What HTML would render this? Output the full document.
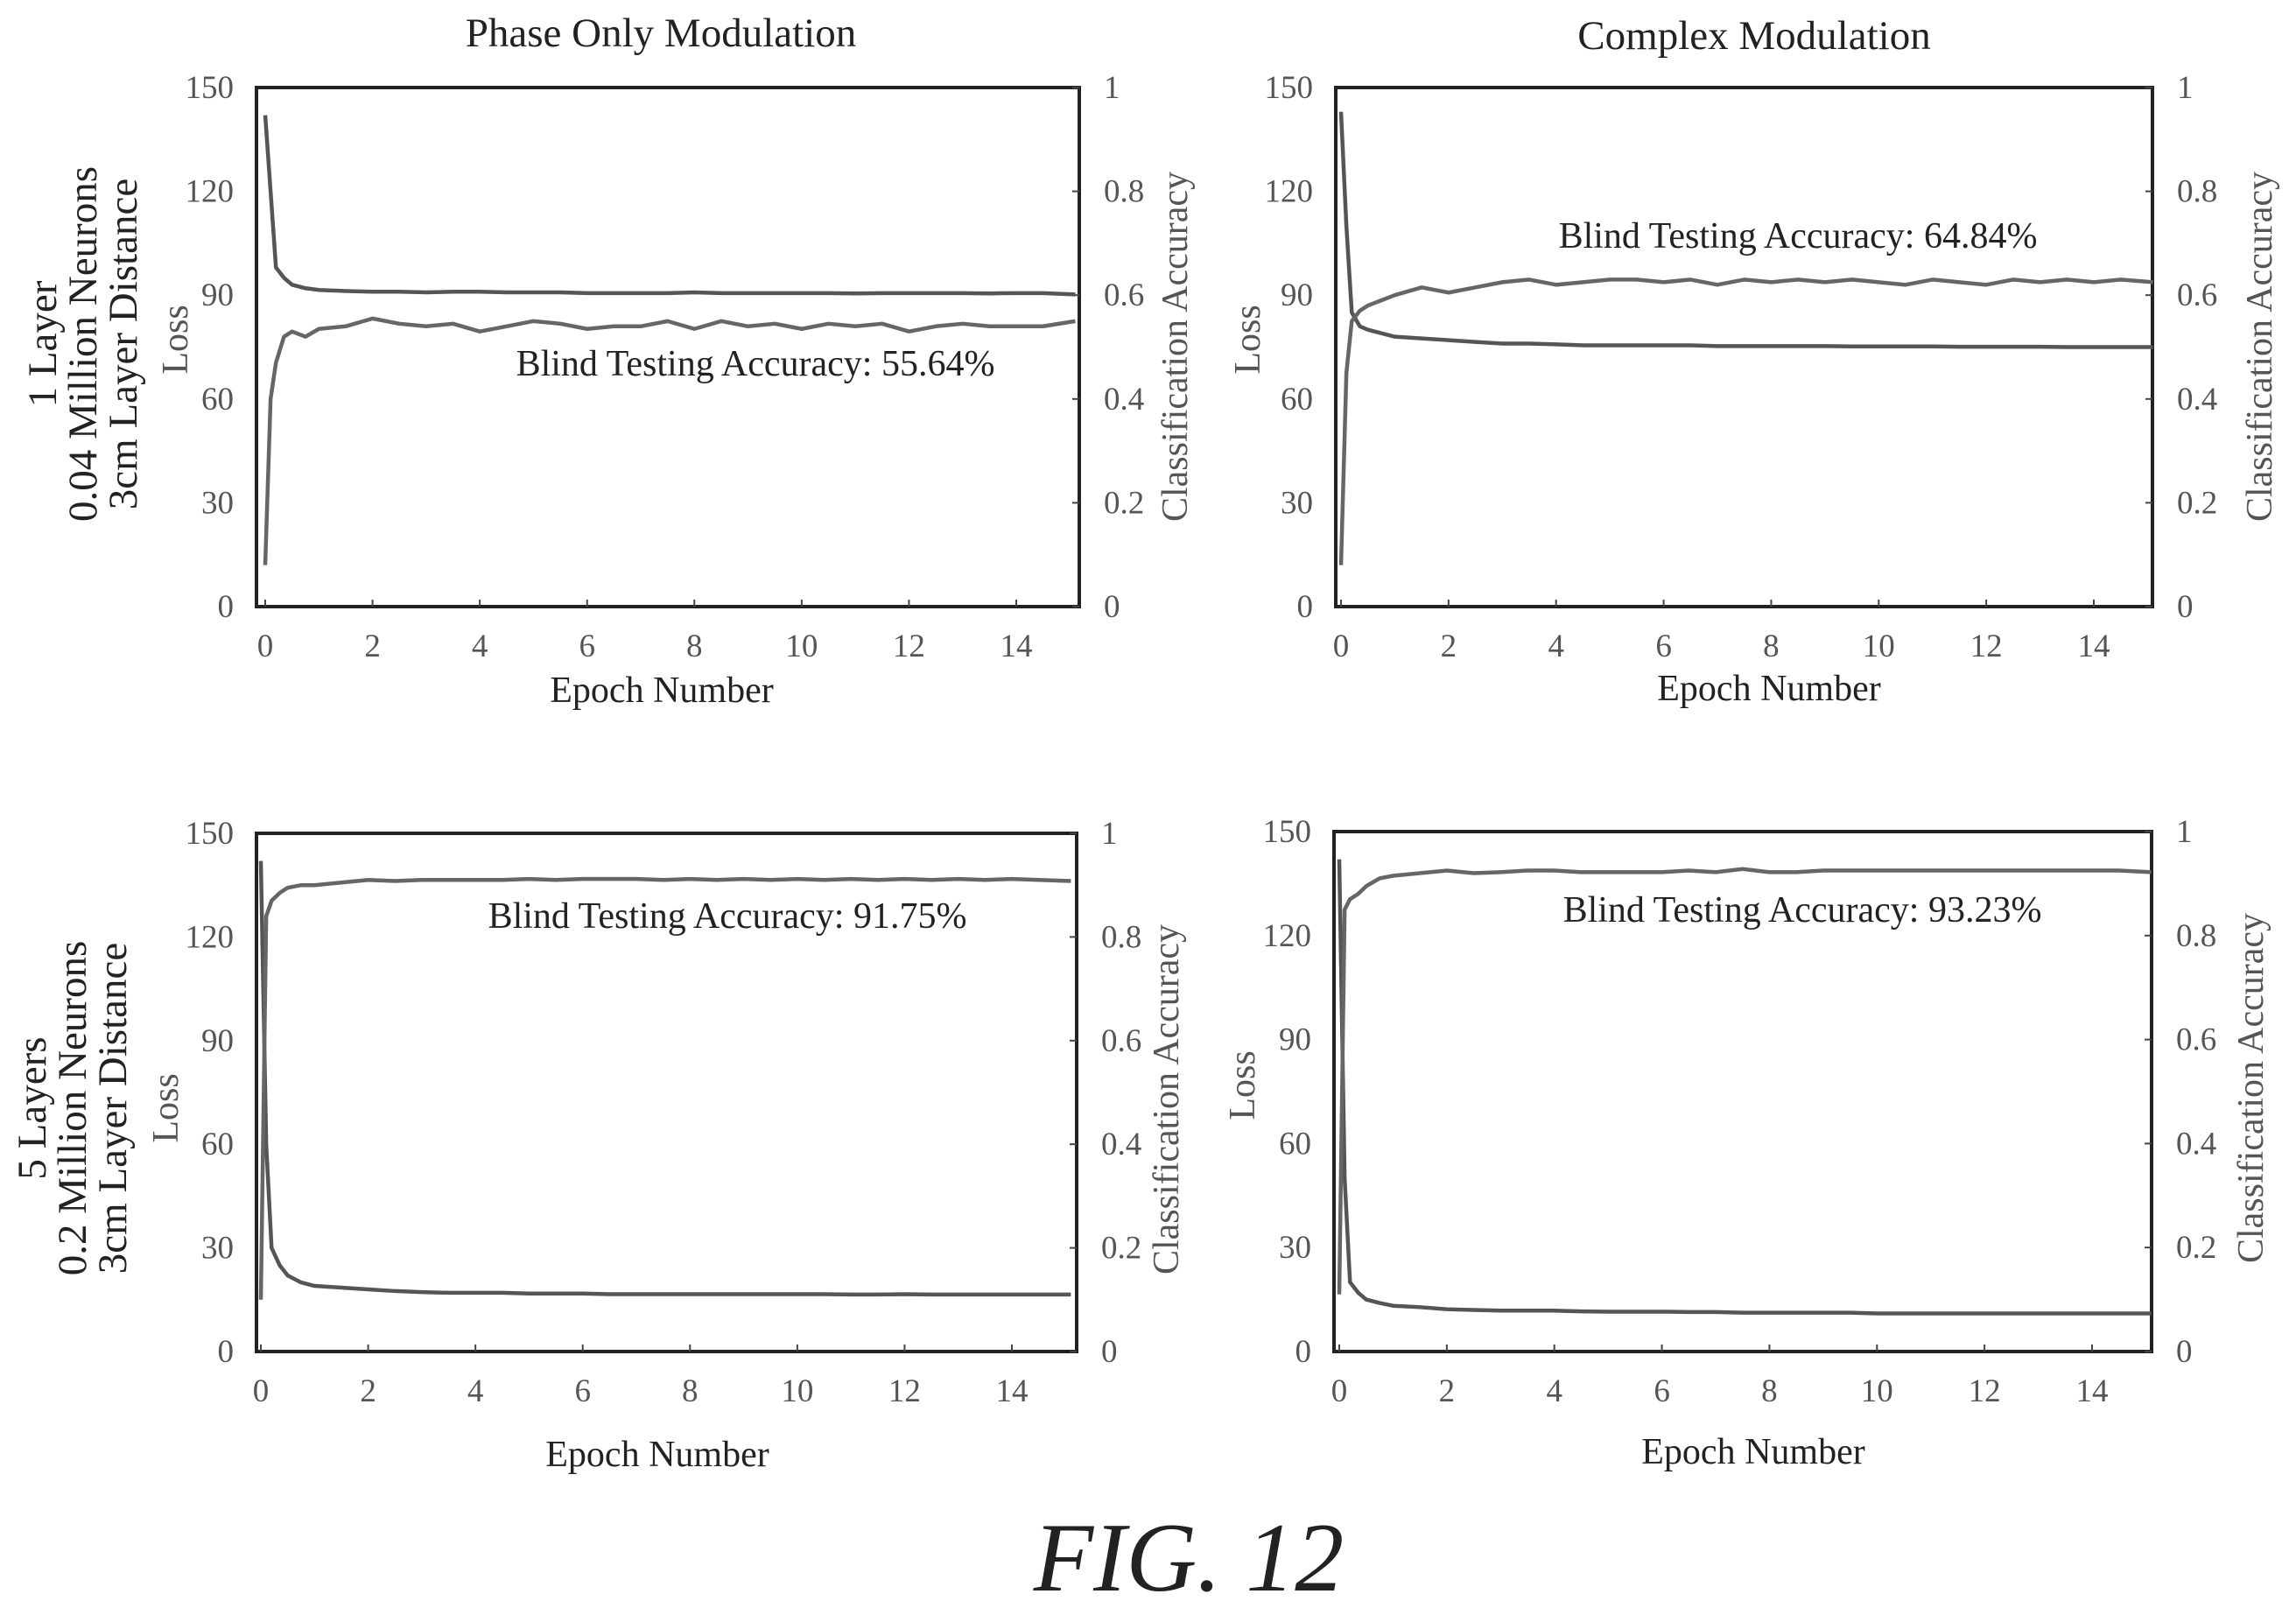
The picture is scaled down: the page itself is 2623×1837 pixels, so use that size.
<!DOCTYPE html>
<html><head><meta charset="utf-8"><style>
html,body{margin:0;padding:0;background:#fff;}
svg{display:block;font-family:"Liberation Serif",serif;}
</style></head><body>
<svg id="fig" width="2623" height="1837" viewBox="0 0 2623 1837" xmlns="http://www.w3.org/2000/svg">
<text x="755" y="53" font-size="47" text-anchor="middle" fill="#222">Phase Only Modulation</text>
<text x="2004" y="56" font-size="47" text-anchor="middle" fill="#222">Complex Modulation</text>
<g transform="translate(96,393) rotate(-90)" font-size="47" fill="#222" text-anchor="middle">
<text x="0" y="-32">1 Layer</text><text x="0" y="14">0.04 Million Neurons</text><text x="0" y="60">3cm Layer Distance</text></g>
<g transform="translate(84,1266) rotate(-90)" font-size="47" fill="#222" text-anchor="middle">
<text x="0" y="-32">5 Layers</text><text x="0" y="14">0.2 Million Neurons</text><text x="0" y="60">3cm Layer Distance</text></g>
<text x="1358" y="1817" font-size="112" font-style="italic" text-anchor="middle" fill="#222">FIG. 12</text>
</svg>
<script>
const epochs=[0,0.1,0.2,0.35,0.5,0.75,1,1.5,2,2.5,3,3.5,4,4.5,5,5.5,6,6.5,7,7.5,8,8.5,9,9.5,10,10.5,11,11.5,12,12.5,13,13.5,14,14.5,15.1];
const lossTicks=[0,30,60,90,120,150];
const accTicks=[0,0.2,0.4,0.6,0.8,1];
const accTickLabels=["0","0.2","0.4","0.6","0.8","1"];
const epochTicks=[0,2,4,6,8,10,12,14];
const tlLoss=[142,120,98,95,93,92,91.5,91.2,91,91,90.8,91,91,90.8,90.8,90.8,90.6,90.6,90.6,90.6,90.8,90.6,90.6,90.6,90.6,90.6,90.5,90.6,90.6,90.6,90.6,90.5,90.6,90.6,90.2];
const tlAcc=[0.08,0.4,0.47,0.52,0.53,0.52,0.535,0.54,0.555,0.545,0.54,0.545,0.53,0.54,0.55,0.545,0.535,0.54,0.54,0.55,0.535,0.55,0.54,0.545,0.535,0.545,0.54,0.545,0.53,0.54,0.545,0.54,0.54,0.54,0.55];
const trLoss=[143,110,85,81,80,79,78,77.5,77,76.5,76,76,75.8,75.5,75.5,75.5,75.5,75.5,75.3,75.3,75.3,75.3,75.3,75.2,75.2,75.2,75.2,75.1,75.1,75.1,75.1,75,75,75,75];
const trAcc=[0.08,0.45,0.55,0.57,0.58,0.59,0.6,0.615,0.605,0.615,0.625,0.63,0.62,0.625,0.63,0.63,0.625,0.63,0.62,0.63,0.625,0.63,0.625,0.63,0.625,0.62,0.63,0.625,0.62,0.63,0.625,0.63,0.625,0.63,0.625];
const blLoss=[142,60,30,25,22,20,19,18.5,18,17.5,17.2,17,17,17,16.8,16.8,16.8,16.6,16.6,16.6,16.6,16.6,16.6,16.6,16.6,16.6,16.5,16.5,16.6,16.5,16.5,16.5,16.5,16.5,16.5];
const blAcc=[0.1,0.84,0.87,0.885,0.895,0.9,0.9,0.905,0.91,0.908,0.91,0.91,0.91,0.91,0.912,0.91,0.912,0.912,0.912,0.91,0.912,0.91,0.912,0.91,0.912,0.91,0.912,0.91,0.912,0.91,0.912,0.91,0.912,0.91,0.908];
const brLoss=[142,50,20,17,15,14,13.2,12.8,12.2,12,11.8,11.8,11.8,11.6,11.5,11.5,11.5,11.4,11.4,11.2,11.2,11.2,11.2,11.2,11,11,11,11,11,11,11,11,11,11,11];
const brAcc=[0.11,0.85,0.87,0.88,0.895,0.91,0.915,0.92,0.925,0.92,0.922,0.925,0.925,0.922,0.922,0.922,0.922,0.925,0.922,0.928,0.922,0.922,0.925,0.925,0.925,0.925,0.925,0.925,0.925,0.925,0.925,0.925,0.925,0.925,0.922];
const panels=[
 {id:'phase-1-layer',L:293,R:1233,T:100,B:693,x0:303,x14:1161,loss:tlLoss,acc:tlAcc,note:'Blind Testing Accuracy: 55.64%',nx:863,ny:429,ex:756,ey:802,lx:200,ly:388,cx:1342,cy:396},
 {id:'complex-1-layer',L:1526,R:2459,T:100,B:693,x0:1532,x14:2392,loss:trLoss,acc:trAcc,note:'Blind Testing Accuracy: 64.84%',nx:2054,ny:283,ex:2021,ey:800,lx:1425,ly:388,cx:2581,cy:396},
 {id:'phase-5-layers',L:293,R:1230,T:952,B:1544,x0:298,x14:1156,loss:blLoss,acc:blAcc,note:'Blind Testing Accuracy: 91.75%',nx:831,ny:1060,ex:751,ey:1675,lx:189,ly:1266,cx:1332,cy:1256},
 {id:'complex-5-layers',L:1524,R:2458,T:950,B:1544,x0:1530,x14:2390,loss:brLoss,acc:brAcc,note:'Blind Testing Accuracy: 93.23%',nx:2059,ny:1053,ex:2003,ey:1672,lx:1419,ly:1240,cx:2571,cy:1243}
];
const NS='http://www.w3.org/2000/svg';
const svg=document.getElementById('fig');
function mk(tag,attrs,parent,txt){const e=document.createElementNS(NS,tag);for(const k in attrs)e.setAttribute(k,attrs[k]);if(txt!==undefined)e.textContent=txt;parent.appendChild(e);return e;}
panels.forEach(p=>{
 const g=mk('g',{},svg);
 
 
 const sx=v=>p.x0+(p.x14-p.x0)*v/14;
 const syL=v=>p.B-(p.B-p.T)*v/150;
 const syA=v=>p.B-(p.B-p.T)*v;
 const box=mk('rect',{x:p.L,y:p.T,width:p.R-p.L,height:p.B-p.T,fill:'none',stroke:'#222','stroke-width':4},g);
 
 
 epochTicks.forEach(t=>{
  const x=sx(t);
  mk('line',{x1:x,x2:x,y1:p.B,y2:p.B-8,stroke:'#444','stroke-width':2},g);
  const lb=mk('text',{x:x,y:p.B+57,'font-size':37,'text-anchor':'middle',fill:'#555'},g,String(t));
  
  
 });
 lossTicks.forEach(t=>{
  const y=syL(t);
  const lb=mk('text',{x:p.L-26,y:y+12,'font-size':37,'text-anchor':'end',fill:'#555'},g,String(t));
  
  
 });
 accTicks.forEach((t,i)=>{
  const y=syA(t);
  mk('line',{x1:p.R,x2:p.R-8,y1:y,y2:y,stroke:'#444','stroke-width':2},g);
  const lb=mk('text',{x:p.R+28,y:y+12,'font-size':37,'text-anchor':'start',fill:'#555'},g,accTickLabels[i]);
  
  
 });
 const lossPath=mk('polyline',{points:epochs.map((e,i)=>sx(e)+','+syL(p.loss[i])).join(' '),fill:'none',stroke:'#555','stroke-width':4.5,'stroke-linejoin':'round'},g);
 
 
 const accPath=mk('polyline',{points:epochs.map((e,i)=>sx(e)+','+syA(p.acc[i])).join(' '),fill:'none',stroke:'#666','stroke-width':4.5,'stroke-linejoin':'round'},g);
 
 
 const note=mk('text',{x:p.nx,y:p.ny,'font-size':42,'text-anchor':'middle',fill:'#222'},g,p.note);
 
 
 const ex=mk('text',{x:p.ex,y:p.ey,'font-size':42,'text-anchor':'middle',fill:'#222'},g,'Epoch Number');
 
 
 const ly=mk('text',{x:0,y:0,'font-size':42,'text-anchor':'middle',fill:'#555',transform:'translate('+(p.lx+14)+','+p.ly+') rotate(-90)'},g,'Loss');
 
 
 const cy=mk('text',{x:0,y:0,'font-size':42,'text-anchor':'middle',fill:'#555',transform:'translate('+(p.cx+14)+','+p.cy+') rotate(-90)'},g,'Classification Accuracy');
 
 
});
</script>
</body></html>
